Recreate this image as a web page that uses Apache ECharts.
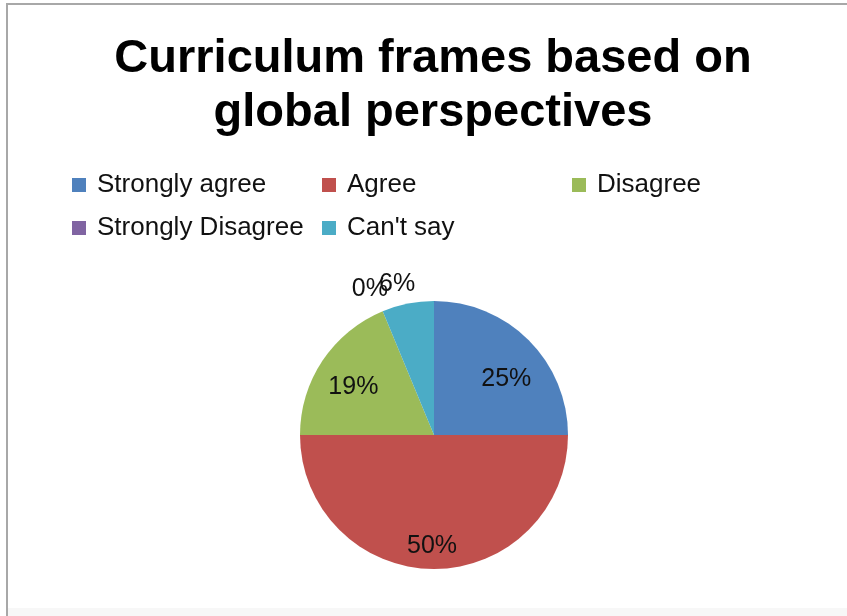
<!DOCTYPE html>
<html>
<head>
<meta charset="utf-8">
<script src="https://cdn.jsdelivr.net/npm/echarts@6/dist/echarts.min.js"></script>
<style>
html,body{margin:0;padding:0;background:#fff;}
#chart{width:847px;height:616px;}
</style>
</head>
<body>
<div id="chart"></div>
<script>
const titleText = "Curriculum frames based on\nglobal perspectives";
const categories = ["Strongly agree", "Agree", "Disagree", "Strongly Disagree", "Can't say"];
const values = [4, 8, 3, 0, 1];
const colors = ["#4F81BD", "#C0504D", "#9BBB59", "#8064A2", "#4BACC6"];
// label placement (styling): distance from centre as a fraction of radius, and angular nudge in degrees
const labelRadiusRatio = [0.68, 0.83, 0.70, 1.19, 1.16];
const labelAngleNudge = [7.5, 1, -3, -1.2, -2.5];

const chart = echarts.init(document.getElementById('chart'), null, {renderer: 'canvas'});
const CX = 434, CY = 435, R = 134;
const total = values.reduce((a, b) => a + b, 0);

function midAngle(i) {
  let s = 0;
  for (let k = 0; k < i; k++) s += values[k];
  return ((s + values[i] / 2) / total) * Math.PI * 2;
}

chart.setOption({
  animation: false,
  backgroundColor: '#fff',
  color: colors,
  title: {
    text: titleText,
    left: 433,
    textAlign: 'center',
    top: 32,
    padding: 0,
    textStyle: {
      fontFamily: 'Liberation Sans',
      fontWeight: 'bold',
      fontSize: 47,
      lineHeight: 54,
      color: '#000'
    }
  },
  legend: {
    left: 72,
    top: 170,
    width: 740,
    padding: 0,
    orient: 'horizontal',
    itemWidth: 14,
    itemHeight: 14,
    itemGap: 13,
    icon: 'rect',
    selectedMode: false,
    textStyle: {
      fontFamily: 'Liberation Sans',
      fontSize: 26,
      lineHeight: 30,
      color: '#111',
      width: 212,
      padding: [0, 0, 0, 6]
    },
    data: categories
  },
  graphic: [
    {type: 'rect', shape: {x: 7, y: 4, width: 900, height: 700}, style: {fill: 'none', stroke: '#a8a8a8', lineWidth: 2}, z: -1},
    {type: 'rect', shape: {x: 8, y: 608, width: 900, height: 10}, style: {fill: '#f7f7f7'}, z: -2}
  ],
  series: [{
    type: 'pie',
    center: [CX, CY],
    radius: R,
    startAngle: 90,
    clockwise: true,
    avoidLabelOverlap: false,
    minShowLabelAngle: 0,
    silent: true,
    itemStyle: {borderWidth: 0},
    label: {
      show: true,
      position: 'inside',
      fontFamily: 'Liberation Sans',
      fontSize: 25,
      color: '#111',
      formatter: p => Math.round(p.percent) + '%'
    },
    labelLine: {show: false},
    labelLayout: function (params) {
      const i = params.dataIndex;
      const a = midAngle(i) + labelAngleNudge[i] * Math.PI / 180;
      const f = labelRadiusRatio[i];
      return {
        x: CX + f * R * Math.sin(a),
        y: CY - f * R * Math.cos(a),
        align: 'center',
        verticalAlign: 'middle'
      };
    },
    emphasis: {disabled: true},
    data: categories.map((c, i) => ({name: c, value: values[i]}))
  }]
});
</script>
</body>
</html>
